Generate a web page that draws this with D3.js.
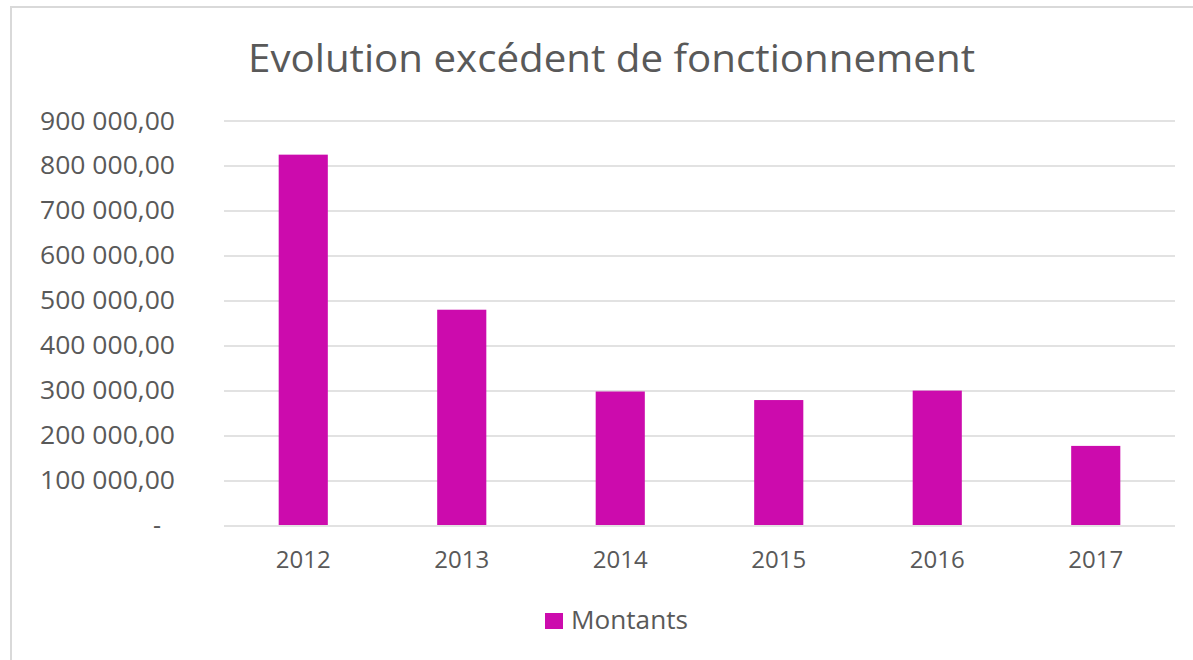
<!DOCTYPE html>
<html>
<head>
<meta charset="utf-8">
<script src="https://cdn.jsdelivr.net/npm/d3@7"></script>
<style>
  body { margin: 0; background: #fff; }
  text { font-family: "Open Sans", sans-serif; fill: #595959; }
</style>
</head>
<body>
<div id="chart"></div>
<script>
//// data
var years = ["2012", "2013", "2014", "2015", "2016", "2017"];
var montants = [824000, 479000, 297000, 278000, 299000, 176000];
var yTicks = [0, 100000, 200000, 300000, 400000, 500000, 600000, 700000, 800000, 900000];
var chartTitle = "Evolution excédent de fonctionnement";
var seriesName = "Montants";

//// chart
var W = 1193, H = 660;
var margin = {top: 120.5, right: 18, bottom: 135, left: 224},
    width = W - margin.left - margin.right,
    height = H - margin.top - margin.bottom;

var root = d3.select("#chart")
  .append("svg")
    .attr("width", W)
    .attr("height", H);

// outer frame
root.append("rect")
  .attr("x", 11).attr("y", 7)
  .attr("width", W + 20).attr("height", H + 20)
  .attr("fill", "none")
  .attr("stroke", "#d9d9d9")
  .attr("stroke-width", 2);

// title
root.append("text")
  .attr("x", 611.5).attr("y", 72)
  .attr("text-anchor", "middle")
  .attr("textLength", 727)
  .attr("lengthAdjust", "spacingAndGlyphs")
  .style("font-size", "38px")
  .text(chartTitle);

var svg = root.append("g")
  .attr("transform", "translate(" + margin.left + "," + margin.top + ")");

var fr = d3.formatLocale({decimal: ",", thousands: "\u00a0", grouping: [3], currency: ["", " €"]});
var fmt = fr.format(",.2f");

//// scales
var x = d3.scaleBand()
  .domain(years)
  .range([0, width])
  .paddingInner(0.69)
  .paddingOuter(0.345);

var y = d3.scaleLinear()
  .domain([0, 900000])
  .range([height, 0]);

//// gridlines
svg.selectAll(".grid")
    .data(yTicks)
  .enter().append("line")
    .attr("class", "grid")
    .attr("x1", 0).attr("x2", width)
    .attr("y1", function(d) { return Math.round(y(d)) + 0.5; })
    .attr("y2", function(d) { return Math.round(y(d)) + 0.5; })
    .attr("stroke", "#d9d9d9")
    .attr("stroke-width", 1.3);

//// y labels
svg.selectAll(".ylab")
    .data(yTicks)
  .enter().append("text")
    .attr("class", "ylab")
    .attr("x", -49)
    .attr("y", function(d) { return y(d); })
    .attr("dy", "0.36em")
    .attr("text-anchor", "end")
    .style("font-size", "25px")
    .attr("textLength", function(d) { return d === 0 ? null : 135; })
    .attr("lengthAdjust", "spacingAndGlyphs")
    .text(function(d) { return d === 0 ? "-" : fmt(d); })
    .attr("dx", function(d) { return d === 0 ? -14 : 0; });

//// x labels
svg.selectAll(".xlab")
    .data(years)
  .enter().append("text")
    .attr("class", "xlab")
    .attr("x", function(d) { return x(d) + x.bandwidth() / 2; })
    .attr("y", height + 43)
    .attr("text-anchor", "middle")
    .style("font-size", "24px")
    .text(function(d) { return d; });

//// bars
svg.selectAll(".bar")
    .data(montants)
  .enter().append("rect")
    .attr("class", "bar")
    .attr("x", function(d, i) { return x(years[i]); })
    .attr("width", x.bandwidth())
    .attr("y", function(d) { return y(d); })
    .attr("height", function(d) { return height - y(d); })
    .attr("fill", "#CC0BAD");

//// legend
var leg = root.append("g").attr("transform", "translate(545,613)");
leg.append("rect")
  .attr("width", 18).attr("height", 16)
  .attr("fill", "#CC0BAD");
leg.append("text")
  .attr("x", 26).attr("y", 16)
  .attr("textLength", 117)
  .attr("lengthAdjust", "spacingAndGlyphs")
  .style("font-size", "25px")
  .text(seriesName);
</script>
</body>
</html>
